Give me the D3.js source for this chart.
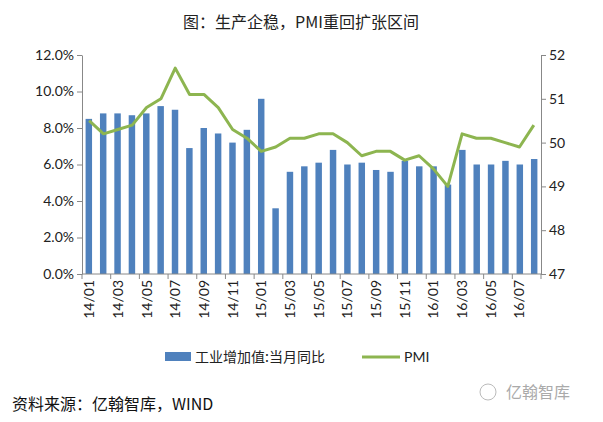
<!DOCTYPE html><html><head><meta charset="utf-8"><script src="https://cdn.jsdelivr.net/npm/d3@7"></script>
<style>body{margin:0;background:#fff;font-family:"Noto Sans CJK SC","Open Sans",sans-serif}</style></head><body><svg id="c" width="603" height="422"></svg><script>
const months=["14/01","14/02","14/03","14/04","14/05","14/06","14/07","14/08","14/09","14/10","14/11","14/12","15/01","15/02","15/03","15/04","15/05","15/06","15/07","15/08","15/09","15/10","15/11","15/12","16/01","16/02","16/03","16/04","16/05","16/06","16/07","16/08"];
const ind=[8.5,8.8,8.8,8.7,8.8,9.2,9.0,6.9,8.0,7.7,7.2,7.9,9.6,3.6,5.6,5.9,6.1,6.8,6.0,6.1,5.7,5.6,6.2,5.9,5.9,4.9,6.8,6.0,6.0,6.2,6.0,6.3];
const pmi=[50.5,50.2,50.3,50.4,50.8,51.0,51.7,51.1,51.1,50.8,50.3,50.1,49.8,49.9,50.1,50.1,50.2,50.2,50.0,49.7,49.8,49.8,49.6,49.7,49.4,49.0,50.2,50.1,50.1,50.0,49.9,50.4];
const leftTicks=[0,2,4,6,8,10,12], rightTicks=[47,48,49,50,51,52];
const svg=d3.select("#c");
const L=82,R=541,T=55,B=274;
const x=d3.scaleBand().domain(months).range([L,R]).paddingInner(0.55).paddingOuter(0.25);
const xc=d3.scaleBand().domain(months).range([L,R]);
const y=d3.scaleLinear().domain([0,12]).range([B,T]);
const y2=d3.scaleLinear().domain([47,52]).range([B,T]);
const f="Lato,'Open Sans','Noto Sans CJK SC',sans-serif";
svg.append("text").attr("x",301).attr("y",28).attr("text-anchor","middle").attr("font-size",16).attr("fill","#222").text("图：生产企稳，PMI重回扩张区间");
const ga=svg.append("g").attr("transform",`translate(${L},0)`).call(d3.axisLeft(y).tickValues(leftTicks).tickFormat(d=>d.toFixed(1)+"%").tickSize(5).tickSizeOuter(0));
const gb=svg.append("g").attr("transform",`translate(${R},0)`).call(d3.axisRight(y2).tickValues(rightTicks).tickFormat(d3.format("d")).tickSize(5).tickSizeOuter(0));
[ga,gb].forEach(g=>{g.selectAll("path,line").attr("stroke","#888");g.selectAll("text").attr("font-size",14).attr("font-family",f).attr("fill","#222");});
svg.selectAll(".bar").data(ind).join("rect").attr("x",(d,i)=>x(months[i])).attr("width",x.bandwidth()).attr("y",d=>y(d)).attr("height",d=>B-y(d)).attr("fill","#4f81bd");
svg.append("path").datum(pmi).attr("fill","none").attr("stroke","#8db550").attr("stroke-width",3).attr("stroke-linejoin","round")
 .attr("d",d3.line().x((d,i)=>xc(months[i])+xc.bandwidth()/2).y(d=>y2(d)));
const gx=svg.append("g").attr("transform",`translate(0,${B})`);
gx.append("line").attr("x1",L).attr("x2",R).attr("stroke","#888");
months.forEach((m,i)=>{ if(i%2==0){ const px=xc(m);
 gx.append("line").attr("x1",px).attr("x2",px).attr("y1",0).attr("y2",5).attr("stroke","#888");
 gx.append("text").attr("transform",`translate(${px+xc.bandwidth()/2+5},6) rotate(-90)`).attr("text-anchor","end").attr("font-size",14).attr("font-family",f).attr("fill","#222").text(m);}});
gx.append("line").attr("x1",R).attr("x2",R).attr("y1",0).attr("y2",5).attr("stroke","#888");
const lg=svg.append("g");
lg.append("rect").attr("x",165).attr("y",352).attr("width",26).attr("height",9).attr("fill","#4f81bd");
lg.append("text").attr("x",195).attr("y",362).attr("font-size",14).attr("fill","#222").text("工业增加值:当月同比");
lg.append("line").attr("x1",362).attr("x2",400).attr("y1",357).attr("y2",357).attr("stroke","#8db550").attr("stroke-width",3);
lg.append("text").attr("x",404).attr("y",362).attr("font-size",14).attr("font-family",f).attr("fill","#222").text("PMI");
svg.append("text").attr("x",12).attr("y",410).attr("font-size",16).attr("fill","#111").text("资料来源：亿翰智库，WIND");
svg.append("text").attr("x",506).attr("y",398).attr("font-size",16).attr("fill","#aaa").text("亿翰智库");
svg.append("circle").attr("cx",488).attr("cy",392).attr("r",8).attr("fill","none").attr("stroke","#bbb");
</script></body></html>
